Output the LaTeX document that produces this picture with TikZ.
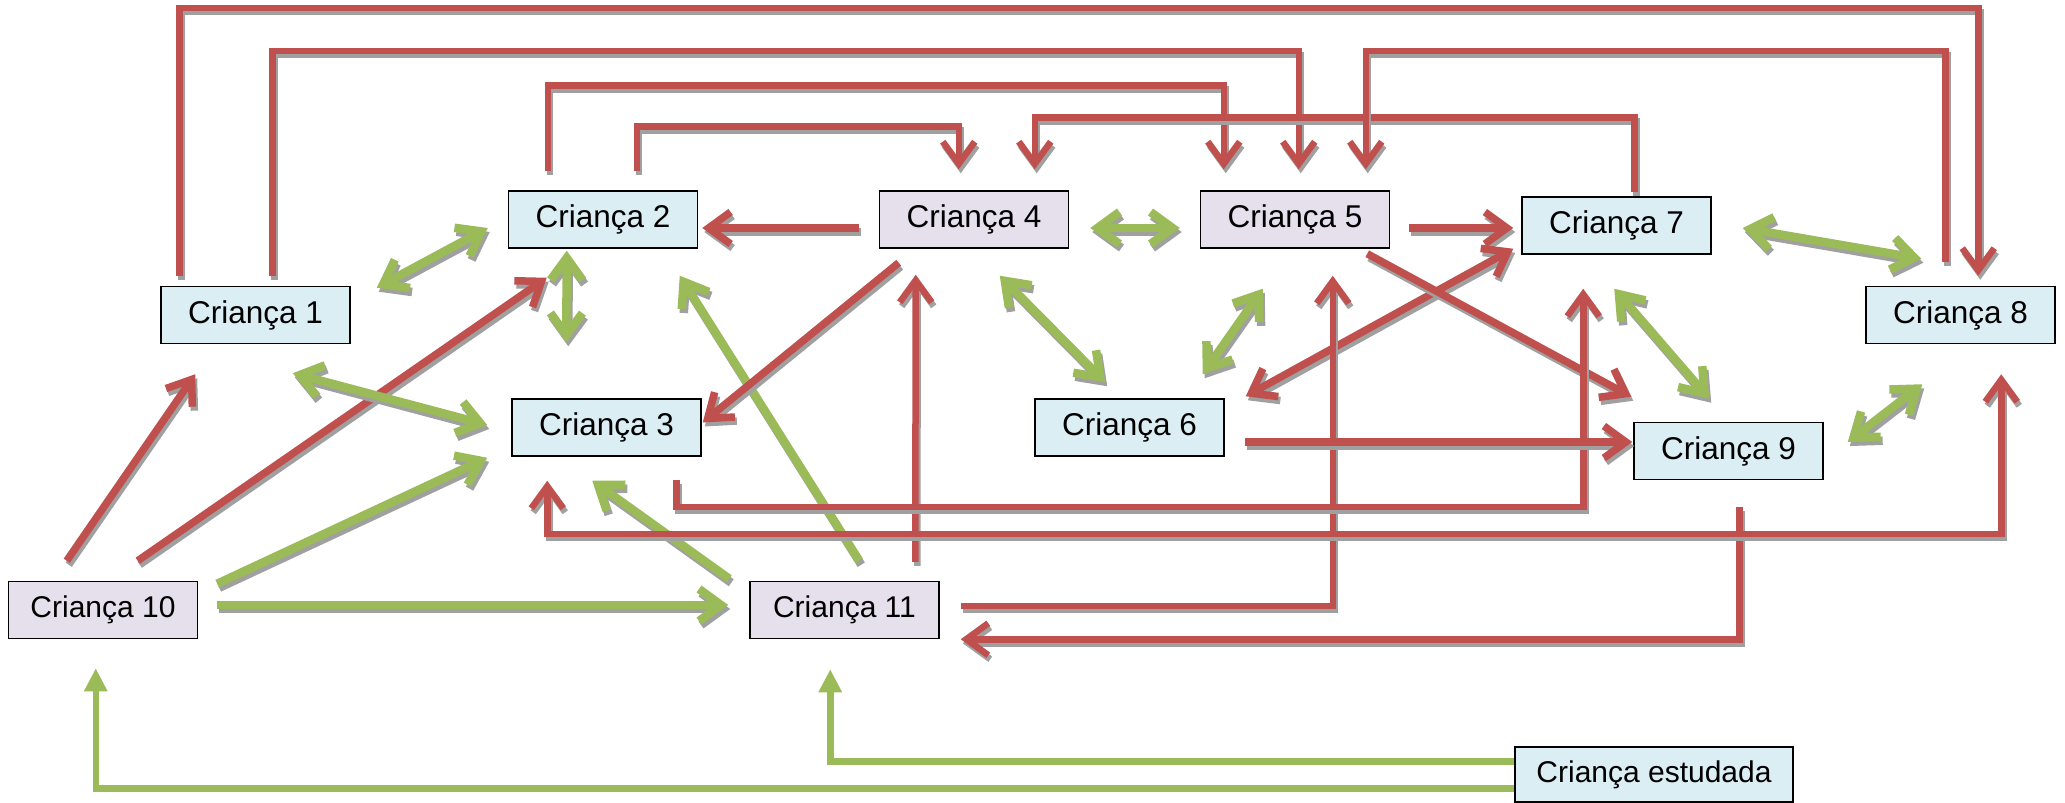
\documentclass[tikz,border=0pt]{standalone}
\usepackage{fontspec}
\setmainfont{Liberation Sans}
\usetikzlibrary{arrows.meta,calc}
\definecolor{rd}{HTML}{C0504D}
\definecolor{gr}{HTML}{9BBB59}
\definecolor{sh}{HTML}{A0A0A0}
\definecolor{bx}{HTML}{DBEEF4}
\definecolor{lv}{HTML}{E5E0EC}
% draw a connector with a grey drop shadow under it
\newcommand\conn[2]{%
  \begin{scope}[transform canvas={shift={(2pt,-4pt)}}]\draw[#1,draw=sh] #2;\end{scope}%
  \draw[#1] #2;}
\begin{document}
\begin{tikzpicture}[x=1pt,y=-1pt,
  box/.style={draw=black,line width=1.5pt,fill=bx,minimum width=189pt,minimum height=57pt,inner sep=0pt,font=\fontsize{31.5}{36}\selectfont},
  lbox/.style={box,fill=lv},
  sbox/.style={lbox,font=\fontsize{30}{36}\selectfont},
  rl/.style={draw=rd,line width=6.5pt},
  rs/.style={draw=rd,line width=7.5pt},
  gs/.style={draw=gr,line width=8.5pt},
  ge/.style={draw=gr,line width=6.5pt,-{Triangle[length=23pt,width=22pt]}},
  >={Straight Barb[length=22pt,width=32pt]}
]
\useasboundingbox (0,0) rectangle (2065,803);
% nodes
\node[box]  (c1)  at (255.5,315)  {Criança 1};
\node[box]  (c2)  at (603,219.5)  {Criança 2};
\node[box]  (c3)  at (606.5,427.5) {Criança 3};
\node[lbox] (c4)  at (974,219.5)  {Criança 4};
\node[lbox] (c5)  at (1295,219.5) {Criança 5};
\node[box]  (c6)  at (1129.5,427.5) {Criança 6};
\node[box]  (c7)  at (1616.5,225.5) {Criança 7};
\node[box]  (c8)  at (1960.5,315) {Criança 8};
\node[box]  (c9)  at (1728.5,451) {Criança 9};
\node[sbox] (c10) at (103,610)    {Criança 10};
\node[sbox] (c11) at (844.5,610)  {Criança 11};
\node[box,font=\fontsize{30}{36}\selectfont,minimum width=278pt,minimum height=55pt] (est) at (1654,774.5) {Criança estudada};
% top routed red connectors
\conn{rl,->}{($(c1.north west)+(19,-10)$) -- ++(0,-268) -| ($(c8.north west)+(113,-10)$)}
\conn{rl,->}{($(c1.north west)+(112,-10)$) -- ++(0,-225) -| ($(c5.north west)+(99,-21)$)}
\conn{rl,->}{($(c2.north west)+(40,-19)$) -- ++(0,-86) -| ($(c5.north west)+(24,-21)$)}
\conn{rl,->}{($(c2.north west)+(129,-19)$) -- ++(0,-45) -| ($(c4.north west)+(80,-21)$)}
\conn{rl,->}{($(c7.north west)+(113,-4)$) -- ++(0,-75) -| ($(c4.north west)+(156,-21)$)}
\conn{rl,->}{($(c8.north west)+(80,-24)$) -- ++(0,-211) -| ($(c5.north west)+(166,-21)$)}
% row 1
\conn{rs,->}{($(c4.west)+(-20,8.5)$) -- ($(c2.east)+(4,8.5)$)}
\conn{gs,<->}{($(c4.east)+(21,8.5)$) -- ($(c5.west)+(-20,8.5)$)}
\conn{rs,->}{($(c5.east)+(19,8.5)$) -- ($(c7.west)+(-8,2.5)$)}
\conn{gs,<->}{($(c7.east)+(31,2.5)$) -- ($(c8.north west)+(56,-27)$)}
% left cluster
\conn{gs,<->}{($(c1.north east)+(26,2)$) -- ($(c2.west)+(-20,8.5)$)}
\conn{gs,<->}{($(c2.south west)+(59,2)$) -- ($(c3.north west)+(55,-56)$)}
\conn{rs,->}{($(c10.north west)+(130,-20)$) -- ($(c2.south west)+(39,29)$)}
\conn{gs,<->}{($(c1.south east)+(-58,29)$) -- ($(c3.west)+(-24,-2.5)$)}
\conn{rs,->}{($(c10.north west)+(59,-20)$) -- ($(c1.south west)+(35,30)$)}
\conn{gs,->}{($(c10.north east)+(19,3)$) -- ($(c3.south west)+(-24,1)$)}
\conn{gs,->}{($(c10.east)+(19,-5)$) -- ($(c11.west)+(-21,-5)$)}
\conn{gs,->}{($(c11.north west)+(-20,-2)$) -- ($(c3.south west)+(81,24)$)}
\conn{gs,->}{($(c11.north west)+(110,-20)$) -- ($(c2.south west)+(172,27)$)}
\conn{rl,->}{($(c11.north west)+(166,-19)$) -- ($(c4.south west)+(37,26)$)}
\conn{rs,->}{($(c4.south west)+(20,14)$) -- ($(c3.east)+(1,-5)$)}
% middle cluster
\conn{gs,<->}{($(c4.south west)+(121,27)$) -- ($(c6.north west)+(71,-16)$)}
\conn{gs,<->}{($(c6.north east)+(-22,-24)$) -- ($(c5.south west)+(63,40)$)}
\conn{rs,<->}{($(c6.north east)+(21,-2)$) -- ($(c7.south west)+(-8,-6)$)}
\conn{rs,->}{($(c5.south east)+(-23,5)$) -- ($(c9.north west)+(-2,-25)$)}
\conn{rl,->}{($(c11.east)+(21,-4)$) -| ($(c5.south west)+(133,27)$)}
\conn{rl,->}{($(c9.south west)+(106,27)$) |- ($(c11.south east)+(21,0)$)}
\conn{rl,->}{($(c3.south west)+(165,23)$) -- ++(0,27) -| ($(c7.south west)+(62,34)$)}
\conn{rl,<->}{($(c3.south west)+(36,24)$) -- ++(0,53) -| ($(c8.south west)+(136,30)$)}
\conn{rs,->}{($(c6.east)+(20,14.5)$) -- ($(c9.west)+(-1,-9)$)}
\conn{gs,<->}{($(c9.east)+(24,-9)$) -- ($(c8.south west)+(57,40)$)}
\conn{gs,<->}{($(c7.south west)+(93,34)$) -- ($(c9.north west)+(76,-23)$)}
% from the studied child (no shadow)
\draw[ge] ($(est.west)+(0,14)$) -| ($(c10.south west)+(88,29)$);
\draw[ge] ($(est.west)+(0,-13)$) -| ($(c11.south west)+(81,30)$);
\end{tikzpicture}
\end{document}
